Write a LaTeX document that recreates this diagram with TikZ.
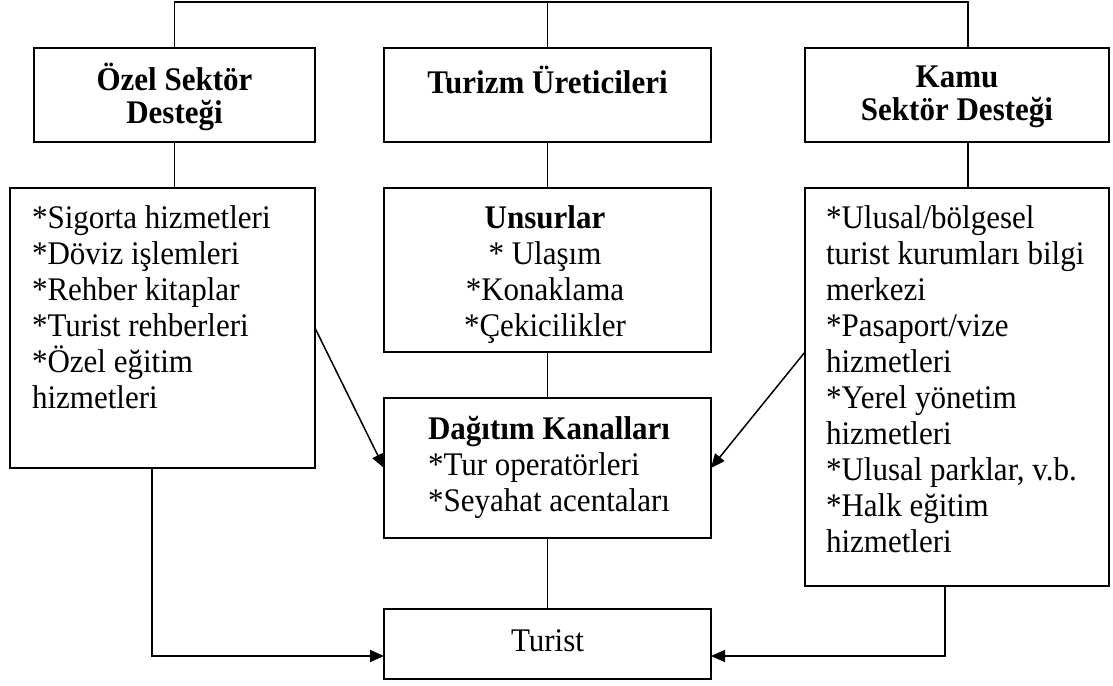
\documentclass[tikz,border=0pt]{standalone}
\usepackage{fontspec}
\setmainfont{Liberation Serif}[FakeStretch=0.94]
\usetikzlibrary{arrows.meta}
\begin{document}
\begin{tikzpicture}[x=1pt,y=-1pt,
  box/.style={draw, line width=1.7pt, rectangle, inner sep=0pt, outer sep=0pt},
  txt/.style={inner sep=0pt, outer sep=0pt, font=\fontsize{33}{36}\selectfont},
  hdr/.style={inner sep=0pt, outer sep=0pt, align=center, font=\fontsize{33}{33}\selectfont\bfseries},
  link/.style={line width=1.5pt},
  arr/.style={link, -{Triangle[length=14pt,width=12pt]}}]
\useasboundingbox (0,0) rectangle (1113,685);

% boxes
\node[box, minimum width=281pt, minimum height=94pt] (b1) at (174.5,95) {};
\node[box, minimum width=327pt, minimum height=94pt] (b2) at (547.5,95) {};
\node[box, minimum width=304pt, minimum height=94pt] (b3) at (957,95) {};
\node[box, minimum width=305pt, minimum height=280pt] (l1) at (162.5,328) {};
\node[box, minimum width=327pt, minimum height=164pt] (u) at (547.5,270) {};
\node[box, minimum width=304pt, minimum height=398pt] (r1) at (957,387) {};
\node[box, minimum width=327pt, minimum height=140pt] (d) at (547.5,468) {};
\node[box, minimum width=327pt, minimum height=70pt] (t) at (547.5,644) {};

% texts
\node[hdr] (b1t) at (174.5,97) {Özel Sektör\\Desteği};
\node[hdr] (b2t) at (547.5,80) {Turizm Üreticileri};
\node[hdr] (b3t) at (957,97) {Kamu\\Sektör Desteği};
\node[txt, align=left, anchor=north west] (l1t) at (32,206)
  {*Sigorta hizmetleri\\*Döviz işlemleri\\*Rehber kitaplar\\*Turist rehberleri\\*Özel eğitim\\hizmetleri};
\node[txt, align=center, anchor=north] (ut) at (545,206)
  {\textbf{Unsurlar}\\* Ulaşım\\*Konaklama\\*Çekicilikler};
\node[txt, align=left, anchor=north west] (r1t) at (826,206)
  {*Ulusal/bölgesel\\turist kurumları bilgi\\merkezi\\*Pasaport/vize\\hizmetleri\\*Yerel yönetim\\hizmetleri\\*Ulusal parklar, v.b.\\*Halk eğitim\\hizmetleri};
\node[txt, align=left, anchor=north west] (dt) at (428,416)
  {\textbf{Dağıtım Kanalları}\\*Tur operatörleri\\*Seyahat acentaları};
\node[txt] (tt) at (547.5,641) {Turist};

% connectors
\coordinate (bus) at (0,2);
\coordinate (k3) at ([xshift=11pt]b3.north);
\coordinate (k3s) at ([xshift=11pt]b3.south);
\draw[link] (b1.north) -- (b1.north |- bus) -- (k3 |- bus) -- (k3);
\draw[link] (b2.north) -- (b2.north |- bus);
\draw[link] (b1.south) -- (b1.south |- l1.north);
\draw[link] (b2.south) -- (u.north);
\draw[link] (k3s) -- (k3s |- r1.north);
\draw[link] (u.south) -- (d.north);
\draw[link] (d.south) -- (t.north);
\draw[arr] (l1.east) -- (d.west);
\draw[arr] ([yshift=35pt]r1.west) -- (d.east);
\draw[arr] ([xshift=-10.5pt]l1.south) |- ([yshift=-12pt]t.west);
\draw[arr] ([xshift=-12pt]r1.south) |- ([yshift=-12pt]t.east);
\end{tikzpicture}
\end{document}
